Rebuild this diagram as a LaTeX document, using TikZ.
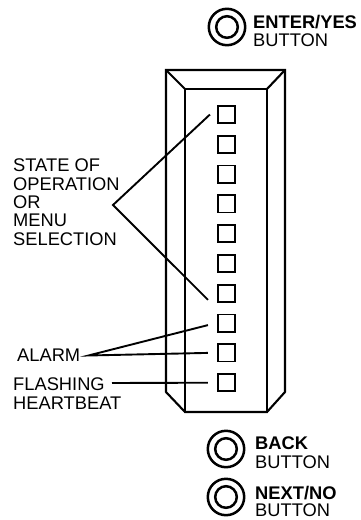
\documentclass[tikz,border=0pt]{standalone}
\usepackage{fontspec}
\setmainfont{Liberation Sans}
\begin{document}
\begin{tikzpicture}[x=1pt,y=-1pt,line join=miter]
\tikzset{
  framel/.style={line width=2.1pt},
  led/.style={draw,line width=1.9pt,rectangle,minimum size=17.2pt,inner sep=0pt},
  conn/.style={line width=1.9pt},
  lbl/.style={font=\fontsize{18.3}{18.3}\selectfont,align=left,inner sep=0pt,anchor=north west},
  btnout/.style={draw,circle,line width=2.5pt,minimum size=36.4pt,inner sep=0pt},
  btnin/.style={draw,circle,line width=2.5pt,minimum size=21.6pt,inner sep=0pt}
}
\useasboundingbox (0,0) rectangle (361,520);
% frame
\draw[framel] (166,70) -- (285,70) -- (285,392) -- (267,412) -- (185,412) -- (166,392) -- cycle;
\draw[framel] (185,89) rectangle (267,412);
\draw[framel] (166,70) -- (185,89) (285,70) -- (267,89);
% squares
\foreach \i in {1,...,10}
  \node[led] (s\i) at (226.5,{114.5+29.8*(\i-1)}) {};
% labels and connectors
\node[lbl] (state) at (13,159) {STATE OF\\OPERATION\\OR\\MENU\\SELECTION};
\coordinate (apex) at (113,205);
\draw[conn] ([xshift=-7pt]s1.west) -- (apex) -- ([xshift=-9pt,yshift=-6.5pt]s7.west);
\node[lbl] (alarm) at (17,349) {ALARM};
\draw[conn] ([xshift=-9pt,yshift=-2pt]s8.west) -- ([xshift=8pt]alarm.east) -- ([xshift=-9pt]s9.west);
\node[lbl] (flash) at (13,378) {FLASHING\\HEARTBEAT};
\coordinate (fl) at (112,383);
\draw[conn] (fl) -- ([xshift=-9pt]s10.west);
% buttons
\node[btnout] (enter) at (227,27) {};
\node[btnin] (enterin) at (enter.center) {};
\node[lbl] (entertxt) at (253,15) {\textbf{ENTER/YES}\\BUTTON};
\node[btnout] (back) at (226,449) {};
\node[btnin] (backin) at (back.center) {};
\node[lbl] (backtxt) at (255,437) {\textbf{BACK}\\BUTTON};
\node[btnout] (next) at (226,497) {};
\node[btnin] (nextin) at (next.center) {};
\node[lbl,font=\fontsize{18.3}{17}\selectfont] (nexttxt) at (255,486) {\textbf{NEXT/NO}\\BUTTON};
\end{tikzpicture}
\end{document}
